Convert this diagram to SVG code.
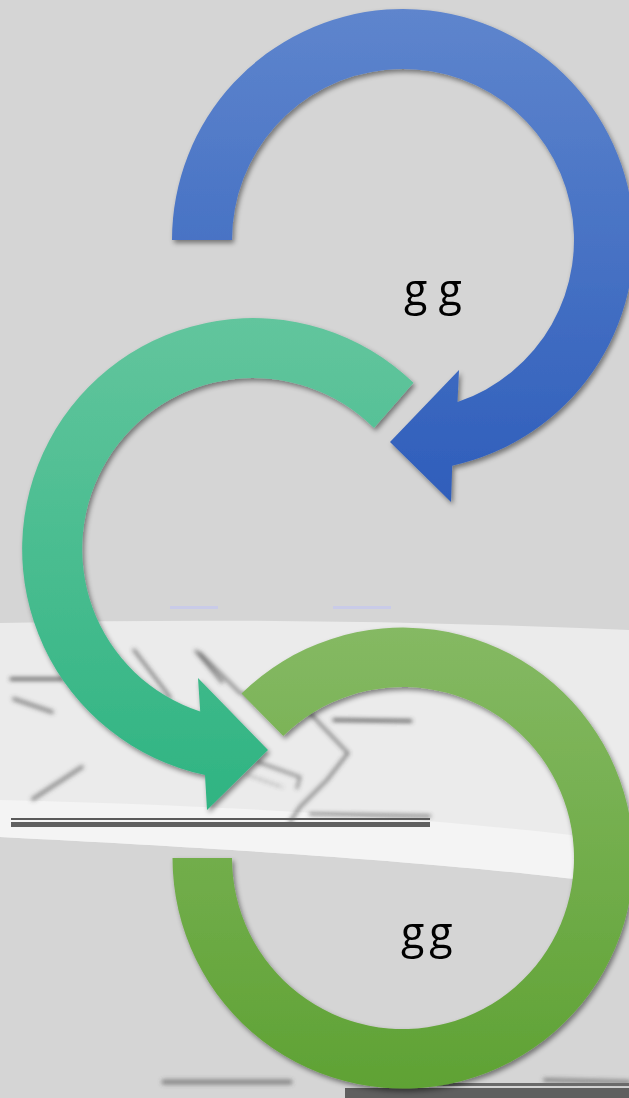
<svg xmlns="http://www.w3.org/2000/svg" width="629" height="1098" viewBox="0 0 629 1098">
  <defs>
    <linearGradient id="gBlue" gradientUnits="userSpaceOnUse" x1="0" y1="10" x2="0" y2="500">
      <stop offset="0" stop-color="#5e85cd"/>
      <stop offset="1" stop-color="#2f5ebb"/>
    </linearGradient>
    <linearGradient id="gTeal" gradientUnits="userSpaceOnUse" x1="0" y1="318" x2="0" y2="810">
      <stop offset="0" stop-color="#62c59d"/>
      <stop offset="1" stop-color="#2fb482"/>
    </linearGradient>
    <linearGradient id="gGreen" gradientUnits="userSpaceOnUse" x1="0" y1="627" x2="0" y2="1088">
      <stop offset="0" stop-color="#85b963"/>
      <stop offset="1" stop-color="#5fa234"/>
    </linearGradient>
    <filter id="shadow" x="-10%" y="-10%" width="120%" height="120%">
      <feDropShadow dx="2" dy="3" stdDeviation="2.5" flood-color="#000" flood-opacity="0.45"/>
    </filter>
    <filter id="blur" x="-20%" y="-50%" width="140%" height="200%">
      <feGaussianBlur stdDeviation="2"/>
    </filter>
  </defs>
  <style>
    .lbl { font-family: "Open Sans", "Noto Sans", "DejaVu Sans", sans-serif; font-size: 43px; fill: #000; }
    .art { fill: none; stroke: #505050; stroke-linecap: round; }
  </style>

  <rect x="0" y="0" width="629" height="1098" fill="#d5d5d5"/>

  <g id="band">
    <path d="M0,623 Q314,616 629,630 L629,886 C560,877 420,858 0,837 Z" fill="#ebebeb"/>
    <path d="M0,800 C200,805 420,815 629,842 L629,886 C560,877 420,858 0,837 Z" fill="#f4f4f4"/>
    <rect x="170" y="606" width="48" height="3" fill="#c9cbe8"/>
    <rect x="333" y="606" width="58" height="3" fill="#c9cbe8"/>
  </g>

  <g id="artifacts" filter="url(#blur)">
    <path class="art" d="M11,679 L62,679" stroke-width="3"/>
    <path class="art" d="M14,699 L52,712" stroke-width="4" opacity="0.6"/>
    <path class="art" d="M33,799 L82,767" stroke-width="4" opacity="0.6"/>
    <path class="art" d="M134,650 L170,697" stroke-width="3" opacity="0.7"/>
    <path class="art" d="M196,651 L222,682" stroke-width="3" opacity="0.7"/>
    <path class="art" d="M200,653 L240,693 L310,713 L323,727 L348,753 L327,780 L300,807 L290,822" stroke-width="3" opacity="0.7"/>
    <path class="art" d="M258,762 L300,777 L297,788" stroke-width="2.5" opacity="0.7"/>
    <path class="art" d="M248,775 L282,787" stroke-width="1.5" stroke-dasharray="2 4" opacity="0.9"/>
    <path class="art" d="M334,720 L411,721" stroke-width="3"/>
    <path class="art" d="M310,814 L430,816" stroke-width="2"/>
    <path class="art" d="M164,1082 L290,1082" stroke-width="5" opacity="0.6"/>
    <path class="art" d="M545,1080 L629,1082" stroke-width="4" opacity="0.6"/>
  </g>
  <rect x="11" y="818" width="419" height="2" fill="#5a5a5a"/>
  <rect x="11" y="822" width="419" height="5" fill="#5f5f5f"/>
  <rect x="345" y="1088" width="284" height="10" fill="#5f5f5f"/>
  <rect x="400" y="1083" width="229" height="3" fill="#6a6a6a"/>

  <g id="arrow-blue" filter="url(#shadow)">
    <path d="M172,240 A231,231 0 1 1 452.2,465.7 L451,502 L390,442 L459,370 L457.5,402 A171,171 0 1 0 232,240 Z" fill="url(#gBlue)"/>
  </g>

  <g id="arrow-teal" filter="url(#shadow)">
    <path d="M413.5,382.8 A231,231 0 1 0 205,775 L207,810 L268,750 L198,678 L200.2,711.6 A171,171 0 1 1 374,428 Z" fill="url(#gTeal)"/>
  </g>

  <g id="arrow-green" filter="url(#shadow)">
    <path d="M241.5,693.6 A230.5,230.5 0 1 1 172.5,858 L232,858 A171,171 0 1 0 283.2,736 Z" fill="url(#gGreen)"/>
  </g>

  <g id="label-top">
    <text class="lbl" x="404" y="305">g g</text>
  </g>
  <g id="label-bottom">
    <text class="lbl" x="401" y="948" letter-spacing="5">gg</text>
  </g>
</svg>
